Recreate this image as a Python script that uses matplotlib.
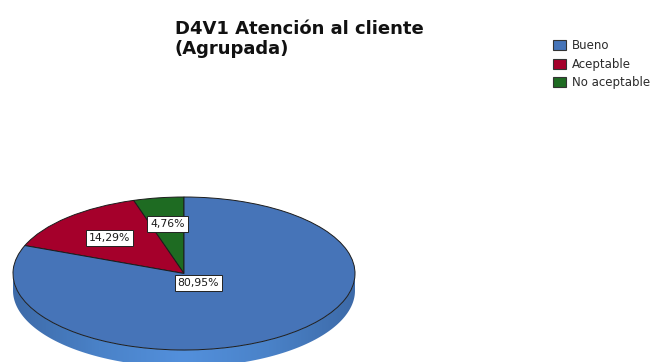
import numpy as np
import matplotlib
matplotlib.use("Agg")
import matplotlib.pyplot as plt
from matplotlib.patches import Polygon, Patch
from matplotlib.colors import LinearSegmentedColormap

# Frequencies of the grouped variable
categories = ["Bueno", "Aceptable", "No aceptable"]
counts = [17, 3, 1]
colors = ["#4674b8", "#a5002b", "#1e6b22"]
# radial position of each percentage label (fraction of radius)
label_dist = [0.15, 0.64, 0.65]

title = "D4V1 Atención al cliente\n(Agrupada)"

W, H = 663, 362
fig = plt.figure(figsize=(W / 100, H / 100), dpi=100)
ax = fig.add_axes([0, 0, 1, 1])

# pie centre and radii in pixels (tilted disc drawn as an ellipse)
cx, cy, rx, ry = 184, 273.5, 171, 76.5
depth = 17 / ry

total = sum(counts)
# slices go counter-clockwise from 12 o'clock: smallest first
order = list(range(len(counts)))[::-1]
wedges, _ = ax.pie([counts[i] for i in order],
                   colors=[colors[i] for i in order],
                   startangle=90, counterclock=True,
                   wedgeprops=dict(edgecolor="#1c1c1c", linewidth=0.7, zorder=3))
ax.set_aspect("auto")
ax.set_xlim(-cx / rx, (W - cx) / rx)
ax.set_ylim((cy - H) / ry, cy / ry)
ax.axis("off")

# side wall of the disc
th = np.linspace(np.pi, 2 * np.pi, 200)
top = np.column_stack([np.cos(th), np.sin(th)])
bot = np.column_stack([np.cos(th[::-1]), np.sin(th[::-1]) - depth])
side = Polygon(np.vstack([top, bot]), closed=True, facecolor="none",
               edgecolor="none", zorder=1)
ax.add_patch(side)
cmap = LinearSegmentedColormap.from_list(
    "side", ["#3d6aa8", "#4a82c8", "#5390dc", "#4a82c8", "#3d6aa8"])
grad = np.linspace(0, 1, 256).reshape(1, -1)
img = ax.imshow(grad, cmap=cmap, extent=[-1, 1, -1 - depth, 0.05],
                aspect="auto", zorder=1, interpolation="bicubic")
img.set_clip_path(side)

# percentage labels
start = 90.0
for idx, i in enumerate(order):
    frac = counts[i] / total
    mid = np.deg2rad(start + frac * 360 / 2)
    start += frac * 360
    r = label_dist[i]
    txt = f"{frac * 100:.2f}%".replace(".", ",")
    ax.text(r * np.cos(mid), r * np.sin(mid), txt, ha="center", va="center",
            fontsize=7.8, family="DejaVu Sans", color="#1a1a1a", zorder=5,
            bbox=dict(boxstyle="square,pad=0.28", facecolor="white",
                      edgecolor="#222222", linewidth=0.7))

fig.text(175 / W, 1 - 20 / H, title, ha="left", va="top", fontsize=13,
         fontweight="bold", family="DejaVu Sans", color="#111111",
         linespacing=1.15)

handles = [Patch(facecolor=c, edgecolor="#333333", linewidth=0.8) for c in colors]
fig.legend(handles, categories, loc="upper left",
           bbox_to_anchor=(551 / W, 1 - 37 / H), frameon=False,
           prop=dict(family="DejaVu Sans", size=8.5),
           handlelength=1.05, handleheight=0.95, handletextpad=0.5,
           labelspacing=0.45, borderpad=0.2, borderaxespad=0,
           labelcolor="#2a2a2a")

fig.savefig("out.png", dpi=100)
